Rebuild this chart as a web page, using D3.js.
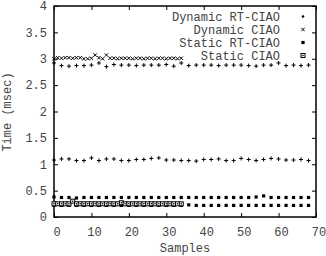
<!DOCTYPE html>
<html><head><meta charset="utf-8">
<script src="https://cdn.jsdelivr.net/npm/d3@7/dist/d3.min.js"></script>
<style>
html,body{margin:0;padding:0;background:#fff;}
svg{display:block;}
text{font-family:"Liberation Mono","DejaVu Sans Mono",monospace;font-size:12px;fill:#444;}
</style></head>
<body>
<svg id="c" width="326" height="256"></svg>
<script>
// ---- data ----
const xTicks = [0, 10, 20, 30, 40, 50, 60, 70];
const xTickLabels = ["0", "10", "20", "30", "40", "50", "60", "70"];
const yTicks = [0, 0.5, 1, 1.5, 2, 2.5, 3, 3.5, 4];
const yTickLabels = ["0", "0.5", "1", "1.5", "2", "2.5", "3", "3.5", "4"];
const legendLabels = ["Dynamic RT-CIAO", "Dynamic CIAO", "Static RT-CIAO", "Static CIAO"];

// sample indices
const samplesEven = [0,2,4,6,8,10,12,14,16,18,20,22,24,26,28,30,32,34,36,38,40,42,44,46,48,50,52,54,56,58,60,62,64,66,68];
const samplesFirst = [0,1,2,3,4,5,6,7,8,9,10,11,12,13,14,15,16,17,18,19,20,21,22,23,24,25,26,27,28,29,30,31,32,33,34];

// Dynamic RT-CIAO (two bands)
const dynRtHigh = [2.92,2.87,2.86,2.87,2.87,2.88,2.92,2.85,2.89,2.88,2.88,2.87,2.88,2.88,2.88,2.89,2.86,2.92,2.87,2.88,2.88,2.88,2.87,2.88,2.88,2.88,2.87,2.86,2.88,2.88,2.92,2.87,2.88,2.87,2.88];
const dynRtLow = [1.08,1.10,1.10,1.07,1.07,1.12,1.07,1.10,1.10,1.07,1.07,1.09,1.09,1.11,1.12,1.08,1.08,1.07,1.07,1.06,1.09,1.09,1.10,1.07,1.07,1.11,1.09,1.07,1.09,1.11,1.10,1.08,1.08,1.09,1.07];
// Dynamic CIAO
const dynCiao = [3.00,3.02,3.01,3.02,3.02,3.01,3.02,3.02,3.00,3.00,3.01,3.07,3.02,3.00,3.07,3.01,3.01,3.00,3.01,3.01,3.01,3.00,3.01,3.01,3.00,3.01,3.01,3.00,3.01,3.01,3.00,3.01,3.01,3.00,3.01];
// Static RT-CIAO (two bands)
const statRtHigh = [0.38,0.37,0.37,0.36,0.37,0.37,0.37,0.37,0.37,0.37,0.37,0.37,0.37,0.37,0.37,0.37,0.37,0.37,0.37,0.37,0.37,0.37,0.37,0.37,0.37,0.37,0.37,0.38,0.40,0.37,0.37,0.37,0.37,0.37,0.37];
const statRtLow = [0.22,0.22,0.22,0.22,0.22,0.22,0.22,0.22,0.22,0.22,0.22,0.22,0.22,0.22,0.22,0.22,0.22,0.22,0.23,0.22,0.22,0.22,0.22,0.22,0.22,0.22,0.22,0.22,0.22,0.22,0.22,0.22,0.22,0.22,0.22];
// Static CIAO
const statCiao = [0.25,0.25,0.25,0.25,0.25,0.30,0.25,0.25,0.25,0.25,0.25,0.25,0.25,0.25,0.25,0.25,0.25,0.25,0.27,0.25,0.25,0.25,0.25,0.25,0.25,0.25,0.25,0.25,0.25,0.25,0.25,0.25,0.25,0.25,0.25];

// ---- chart ----
const svg = d3.select("#c");
const L = 54, R = 316, T = 6, B = 217;
const x = d3.scaleLinear().domain([0, 70]).range([L, R]);
const y = d3.scaleLinear().domain([0, 4]).range([B, T]);

// axes (inward ticks, mirrored)
const gl = svg.append("g").attr("transform", `translate(${L},0)`)
  .call(d3.axisLeft(y).tickValues(yTicks).tickFormat((d, i) => yTickLabels[i]).tickSize(-4).tickPadding(7));
const gr = svg.append("g").attr("transform", `translate(${R},0)`)
  .call(d3.axisRight(y).tickValues(yTicks).tickFormat("").tickSize(-4));
const gb = svg.append("g").attr("transform", `translate(0,${B})`)
  .call(d3.axisBottom(x).tickValues(xTicks).tickFormat((d, i) => xTickLabels[i]).tickSize(-4).tickPadding(10));
const gt = svg.append("g").attr("transform", `translate(0,${T})`)
  .call(d3.axisTop(x).tickValues(xTicks).tickFormat("").tickSize(-4));
[gl, gr, gb, gt].forEach(g => {
  g.select(".domain").remove();
  g.selectAll(".tick line").attr("stroke", "#000");
  g.selectAll("text").attr("font-family", null).attr("font-size", null);
});
gb.selectAll("text").attr("dx", 2.5);

svg.append("rect").attr("x", L).attr("y", T).attr("width", R - L).attr("height", B - T)
  .attr("fill", "none").attr("stroke", "#000").attr("stroke-width", 1.5);

// symbols
function plusPath(s) { return `M${-s},0H${s}M0,${-s}V${s}`; }
function timesPath(s) { return `M${-s},${-s}L${s},${s}M${-s},${s}L${s},${-s}`; }

function drawPlus(xs, vals, s) {
  svg.append("g").selectAll("path").data(vals).join("path")
    .attr("transform", (d, i) => `translate(${x(xs[i])},${y(d)})`)
    .attr("d", plusPath(s)).attr("stroke", "#000").attr("stroke-width", 1).attr("fill", "none");
}
function drawTimes(xs, vals, s) {
  svg.append("g").selectAll("path").data(vals).join("path")
    .attr("transform", (d, i) => `translate(${x(xs[i])},${y(d)})`)
    .attr("d", timesPath(s)).attr("stroke", "#000").attr("stroke-width", 1).attr("fill", "none");
}
function drawSquares(xs, vals, s) {
  svg.append("g").selectAll("rect").data(vals).join("rect")
    .attr("x", (d, i) => x(xs[i]) - s).attr("y", d => y(d) - s)
    .attr("width", 2 * s).attr("height", 2 * s).attr("fill", "#000");
}
function drawBoxes(xs, vals, s) {
  const g = svg.append("g");
  g.selectAll("rect").data(vals).join("rect")
    .attr("x", (d, i) => x(xs[i]) - s).attr("y", d => y(d) - s)
    .attr("width", 2 * s).attr("height", 2 * s).attr("fill", "#fff").attr("stroke", "#000").attr("stroke-width", 1);
  g.selectAll("circle").data(vals).join("circle")
    .attr("cx", (d, i) => x(xs[i])).attr("cy", d => y(d)).attr("r", 0.8).attr("fill", "#000");
}

drawPlus(samplesEven, dynRtHigh, 2);
drawPlus(samplesEven, dynRtLow, 2);
drawTimes(samplesFirst, dynCiao, 1.7);
drawSquares(samplesEven, statRtHigh, 1.6);
drawSquares(samplesEven, statRtLow, 1.6);
drawBoxes(samplesFirst, statCiao, 2);

// legend
const legY = [16.5, 29.5, 42.5, 55.5];
const legSymX = 303;
legendLabels.forEach((lab, i) => {
  svg.append("text").attr("x", 280).attr("y", legY[i] + 4).attr("text-anchor", "end").text(lab);
});
svg.append("circle").attr("cx", legSymX).attr("cy", legY[0]).attr("r", 1.3).attr("fill", "#000");
svg.append("path").attr("transform", `translate(${legSymX},${legY[1]})`).attr("d", timesPath(1.7)).attr("stroke", "#000").attr("fill", "none");
svg.append("rect").attr("x", legSymX - 1.6).attr("y", legY[2] - 1.6).attr("width", 3.2).attr("height", 3.2).attr("fill", "#000");
svg.append("rect").attr("x", legSymX - 2).attr("y", legY[3] - 2).attr("width", 4).attr("height", 4).attr("fill", "#fff").attr("stroke", "#000");
svg.append("circle").attr("cx", legSymX).attr("cy", legY[3]).attr("r", 0.8).attr("fill", "#000");

// axis titles
svg.append("text").attr("transform", "translate(11,112) rotate(-90)").attr("text-anchor", "middle").text("Time (msec)");
svg.append("text").attr("x", 185).attr("y", 252).attr("text-anchor", "middle").text("Samples");
</script>
</body></html>
